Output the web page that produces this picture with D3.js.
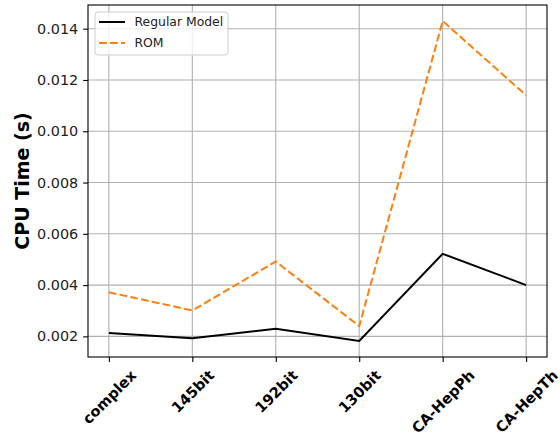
<!DOCTYPE html>
<html><head><meta charset="utf-8">
<script src="https://cdn.jsdelivr.net/npm/d3@7"></script>
<style>body{margin:0;background:#fff}svg{display:block}text{font-family:"DejaVu Sans",sans-serif}</style>
</head><body>
<svg id="c" width="560" height="442"></svg>
<script>
const categories = ["complex","145bit","192bit","130bit","CA-HepPh","CA-HepTh"];
const regularModel = [0.00213,0.00193,0.0023,0.00182,0.00522,0.0040];
const rom = [0.00372,0.00301,0.00492,0.0024,0.0143,0.0114];
const yTicks = [0.002,0.004,0.006,0.008,0.010,0.012,0.014];
const seriesNames = ["Regular Model","ROM"];

const svg = d3.select("#c");
const L=88,R=547,T=5,B=357;
const n=categories.length;
const x = d3.scaleLinear().domain([-0.25,n-1+0.25]).range([L,R]);
const all = regularModel.concat(rom);
const mn=d3.min(all), mx=d3.max(all), pad=(mx-mn)*0.05;
const y = d3.scaleLinear().domain([mn-pad,mx+pad]).range([B,T]);

// grid
const g = svg.append("g");
g.selectAll(".gx").data(categories).join("line")
 .attr("x1",(d,i)=>x(i)).attr("x2",(d,i)=>x(i)).attr("y1",T).attr("y2",B)
 .attr("stroke","#b0b0b0").attr("stroke-width",1.1);
g.selectAll(".gy").data(yTicks).join("line")
 .attr("x1",L).attr("x2",R).attr("y1",d=>y(d)).attr("y2",d=>y(d))
 .attr("stroke","#b0b0b0").attr("stroke-width",1.1);

// lines
const line = d3.line().x((d,i)=>x(i)).y(d=>y(d));
svg.append("path").datum(regularModel).attr("d",line).attr("fill","none")
 .attr("stroke","#000").attr("stroke-width",2);
svg.append("path").datum(rom).attr("d",line).attr("fill","none")
 .attr("stroke","#ff7f0e").attr("stroke-width",2).attr("stroke-dasharray","7.7,3.3");

// frame
svg.append("rect").attr("x",L).attr("y",T).attr("width",R-L).attr("height",B-T)
 .attr("fill","none").attr("stroke","#000").attr("stroke-width",1.1);

// y axis
const ya = d3.axisLeft(y).tickValues(yTicks).tickFormat(d3.format(".3f")).tickSize(4.9).tickPadding(4.9);
const yg = svg.append("g").attr("transform",`translate(${L},0)`).call(ya);
yg.select(".domain").remove();
yg.selectAll("line").attr("stroke","#000").attr("stroke-width",1.1);
yg.selectAll("text").attr("font-size","14.4px").attr("fill","#222").attr("font-family","DejaVu Sans");

// x axis
const xa = d3.axisBottom(x).tickValues(d3.range(n)).tickFormat(i=>categories[i]).tickSize(4.9);
const xg = svg.append("g").attr("transform",`translate(0,${B})`).call(xa);
xg.select(".domain").remove();
xg.selectAll("line").attr("stroke","#000").attr("stroke-width",1.1);
const fx=14.6;
xg.selectAll("text").each(function(d){
  const t=d3.select(this);
  t.attr("font-size",fx+"px").attr("font-weight","bold").attr("fill","#000")
   .attr("font-family","DejaVu Sans").attr("text-anchor","middle").attr("dy","0.35em").attr("y",0);
  const w=this.getComputedTextLength(), h=fx*1.16;
  const bh=(w+h)*Math.SQRT1_2;
  const cy=4.9+4.9+bh/2;
  t.attr("transform",`translate(0,${cy}) rotate(-45)`);
});

// y label
svg.append("text").attr("transform",`translate(22,${(T+B)/2}) rotate(-90)`)
 .attr("text-anchor","middle").attr("dy","0.35em").attr("font-size","19px").attr("font-weight","bold")
 .text("CPU Time (s)");

// legend
const lg = svg.append("g");
lg.append("rect").attr("x",95).attr("y",12).attr("width",133).attr("height",43).attr("rx",3)
 .attr("fill","#fff").attr("fill-opacity",0.8).attr("stroke","#ccc").attr("stroke-width",1);
const styles=[{c:"#000",d:null},{c:"#ff7f0e",d:"7.7,3.3"}];
seriesNames.forEach((s,i)=>{
  const yy = 22+i*21;
  lg.append("line").attr("x1",99).attr("x2",125).attr("y1",yy).attr("y2",yy)
   .attr("stroke",styles[i].c).attr("stroke-width",2).attr("stroke-dasharray",styles[i].d);
  lg.append("text").attr("x",134.5).attr("y",yy).attr("dy","0.35em").attr("font-size","12.4px").attr("fill","#222").text(s);
});
</script>
</body></html>
